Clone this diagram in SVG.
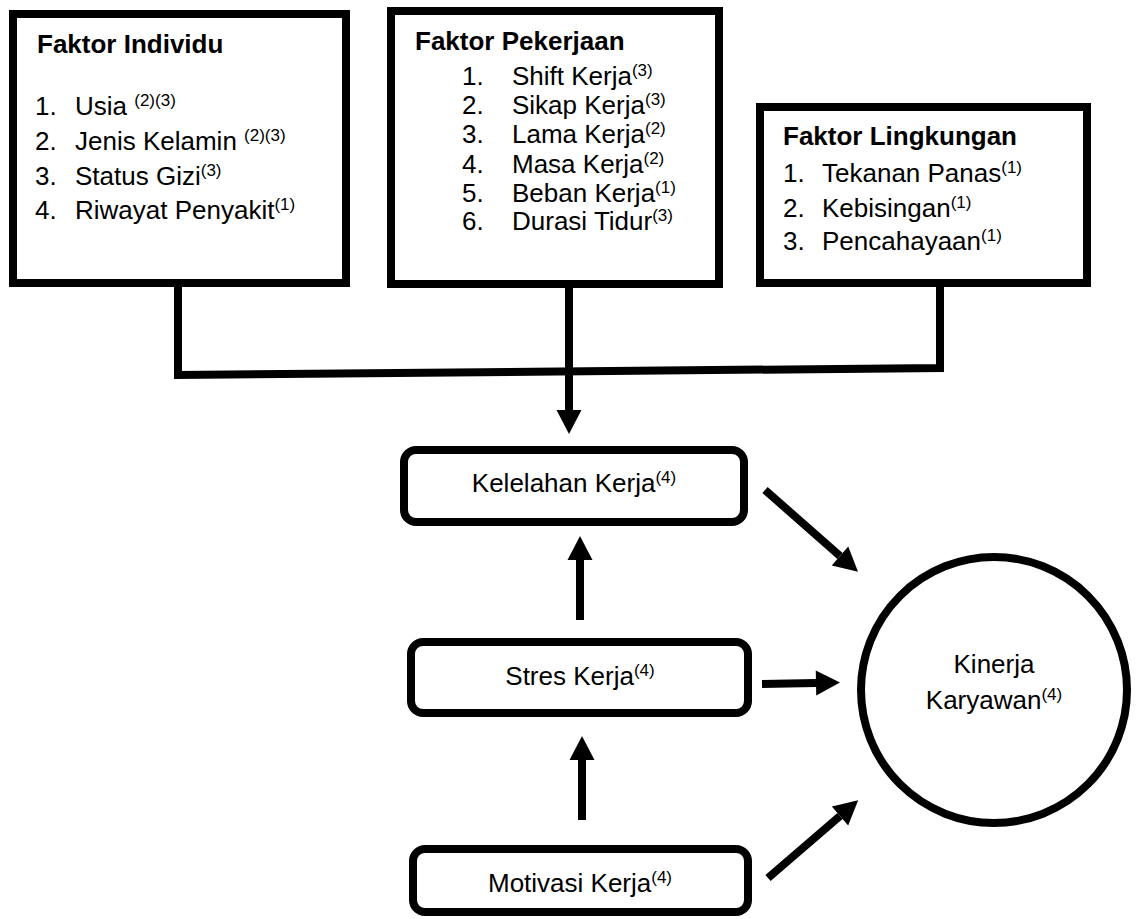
<svg xmlns="http://www.w3.org/2000/svg" width="1138" height="919" viewBox="0 0 1138 919">
<style>
text{font-family:"Liberation Sans",Arial,sans-serif;font-size:26px;fill:#000}
.t{font-weight:bold}
.s{font-size:17px}
.box{fill:#fff;stroke:#000;stroke-width:8}
.node{fill:#fff;stroke:#000;stroke-width:8}
.c{fill:none;stroke:#000;stroke-width:8;stroke-linejoin:miter}
.m{text-anchor:middle}
</style>
<defs>
<marker id="ah" markerUnits="userSpaceOnUse" markerWidth="25" markerHeight="25" refX="0" refY="12.5" orient="auto" overflow="visible">
<path d="M0,0 L24,12.5 L0,25 Z" fill="#000"/>
</marker>
</defs>
<g id="connectors">
<path class="c" d="M178,287 L178,375 L940,368 L940,287"/>
<path class="c" d="M569,288 L569,410" marker-end="url(#ah)"/>
<path class="c" d="M580,620 L580,560" marker-end="url(#ah)"/>
<path class="c" d="M582,820 L582,760" marker-end="url(#ah)"/>
<path class="c" d="M765,490 L840,556" marker-end="url(#ah)"/>
<path class="c" d="M762,684 L816,683" marker-end="url(#ah)"/>
<path class="c" d="M768,878 L840,816" marker-end="url(#ah)"/>
</g>
<g id="faktor-individu">
<rect class="box" x="13" y="14" width="333" height="269"/>
<text class="t" x="37" y="53">Faktor Individu</text>
<text x="35" y="115">1.</text><text x="75" y="115">Usia <tspan class="s" dy="-9">(2)(3)</tspan></text>
<text x="35" y="150">2.</text><text x="75" y="150">Jenis Kelamin <tspan class="s" dy="-9">(2)(3)</tspan></text>
<text x="35" y="185">3.</text><text x="75" y="185">Status Gizi<tspan class="s" dy="-9">(3)</tspan></text>
<text x="35" y="219">4.</text><text x="75" y="219">Riwayat Penyakit<tspan class="s" dy="-9">(1)</tspan></text>
</g>
<g id="faktor-pekerjaan">
<rect class="box" x="391" y="11" width="328" height="273"/>
<text class="t" x="415" y="50">Faktor Pekerjaan</text>
<text x="462" y="85">1.</text><text x="512" y="85">Shift Kerja<tspan class="s" dy="-9">(3)</tspan></text>
<text x="462" y="114">2.</text><text x="512" y="114">Sikap Kerja<tspan class="s" dy="-9">(3)</tspan></text>
<text x="462" y="143">3.</text><text x="512" y="143">Lama Kerja<tspan class="s" dy="-9">(2)</tspan></text>
<text x="462" y="173">4.</text><text x="512" y="173">Masa Kerja<tspan class="s" dy="-9">(2)</tspan></text>
<text x="462" y="202">5.</text><text x="512" y="202">Beban Kerja<tspan class="s" dy="-9">(1)</tspan></text>
<text x="462" y="230">6.</text><text x="512" y="230">Durasi Tidur<tspan class="s" dy="-9">(3)</tspan></text>
</g>
<g id="faktor-lingkungan">
<rect class="box" x="760" y="107" width="327" height="176"/>
<text class="t" x="783" y="145">Faktor Lingkungan</text>
<text x="783" y="182">1.</text><text x="822" y="182">Tekanan Panas<tspan class="s" dy="-9">(1)</tspan></text>
<text x="783" y="217">2.</text><text x="822" y="217">Kebisingan<tspan class="s" dy="-9">(1)</tspan></text>
<text x="783" y="250">3.</text><text x="822" y="250">Pencahayaan<tspan class="s" dy="-9">(1)</tspan></text>
</g>
<g id="kelelahan-kerja">
<rect class="node" x="404" y="450" width="340" height="72" rx="12"/>
<text class="m" x="574" y="492">Kelelahan Kerja<tspan class="s" dy="-9">(4)</tspan></text>
</g>
<g id="stres-kerja">
<rect class="node" x="411" y="642" width="337" height="71" rx="12"/>
<text class="m" x="580" y="685">Stres Kerja<tspan class="s" dy="-9">(4)</tspan></text>
</g>
<g id="motivasi-kerja">
<rect class="node" x="413" y="849" width="335" height="63" rx="12"/>
<text class="m" x="580" y="892">Motivasi Kerja<tspan class="s" dy="-9">(4)</tspan></text>
</g>
<g id="kinerja-karyawan">
<circle class="node" cx="994" cy="690" r="133"/>
<text class="m" x="994" y="673">Kinerja</text>
<text class="m" x="994" y="709">Karyawan<tspan class="s" dy="-9">(4)</tspan></text>
</g>
</svg>
